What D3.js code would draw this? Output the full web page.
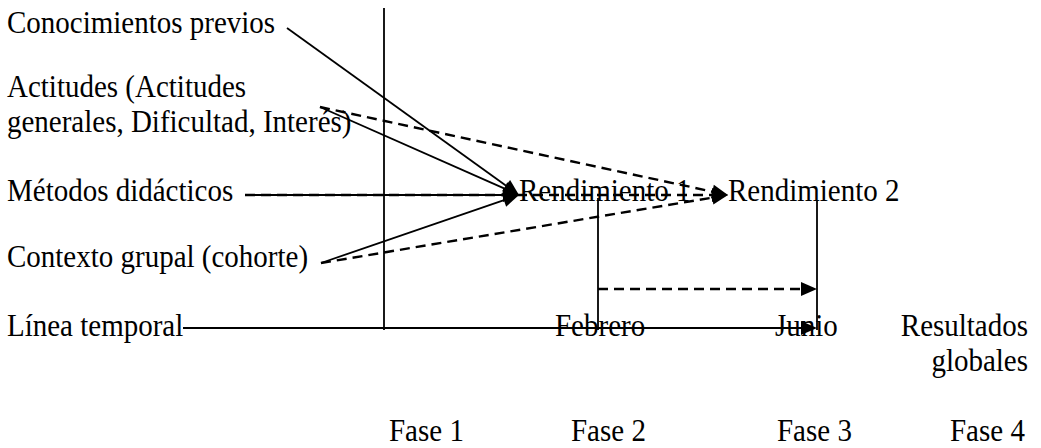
<!DOCTYPE html>
<html><head><meta charset="utf-8">
<script src="https://cdn.jsdelivr.net/npm/d3@7"></script>
<style>
body{margin:0;background:#fff}
svg{display:block}
text{font-family:"Liberation Serif","Times New Roman",Times,"DejaVu Serif",serif;font-size:29px;fill:#000}
</style>
</head><body>
<svg id="c" width="1041" height="448"></svg>
<script>
// ---- diagram content ----
const factors = ["Conocimientos previos", "Actitudes (Actitudes|generales, Dificultad, Interés)", "Métodos didácticos", "Contexto grupal (cohorte)"];
const outcomes = ["Rendimiento 1", "Rendimiento 2"];
const timeMarks = ["Línea temporal", "Febrero", "Junio", "Resultados|globales"];
const phases = ["Fase 1", "Fase 2", "Fase 3", "Fase 4"];
const solidLinks = [
  ["Conocimientos previos", "Rendimiento 1"],
  ["Actitudes (Actitudes|generales, Dificultad, Interés)", "Rendimiento 1"],
  ["Métodos didácticos", "Rendimiento 1"],
  ["Contexto grupal (cohorte)", "Rendimiento 1"]
];
const dashedLinks = [
  ["Actitudes (Actitudes|generales, Dificultad, Interés)", "Rendimiento 2"],
  ["Métodos didácticos", "Rendimiento 2"],
  ["Contexto grupal (cohorte)", "Rendimiento 2"]
];
const timeArrows = [["Línea temporal", "Junio", "solid"], ["Febrero", "Junio", "dashed"]];

// ---- layout ----
const svg = d3.select("#c");
const STRETCH = 1.1, LINE = 35;
const factorY = d3.scaleOrdinal().domain(factors).range([33, 97, 201, 267]);
const factorStart = d3.scaleOrdinal().domain(factors).range([[287, 28], [320, 107], [245, 195], [321, 263]]);
const outcomeX = d3.scaleOrdinal().domain(outcomes).range([519, 728]);
const outcomeTip = d3.scaleOrdinal().domain(outcomes).range([[519, 195], [728, 195]]);
const timeX = d3.scaleOrdinal().domain(timeMarks).range([7, 555, 775, 1028]);
const timeAnchor = d3.scaleOrdinal().domain(timeMarks).range(["start", "start", "start", "end"]);
const phaseX = d3.scaleOrdinal().domain(phases).range([389, 571, 777, 950]);
const timeLineY = 328, textBaseY = 336, phaseY = 441;
const dividers = ["Fase 1", "Fase 2", "Fase 3"];
const dividerX = d3.scaleOrdinal().domain(dividers).range([384, 598, 817]);
const dividerTop = d3.scaleOrdinal().domain(dividers).range([8, 198, 200]);
const timeStart = d3.scaleOrdinal().domain(["Línea temporal", "Febrero"]).range([[183, timeLineY], [598, 289]]);

function arrowHead(g, from, to) {
  const a = Math.atan2(to[1] - from[1], to[0] - from[0]);
  const L = 16, W = 7;
  const bx = to[0] - L * Math.cos(a), by = to[1] - L * Math.sin(a);
  const px = -Math.sin(a) * W, py = Math.cos(a) * W;
  g.append("path").attr("d", `M${to[0]},${to[1]}L${bx + px},${by + py}L${bx - px},${by - py}Z`).attr("fill", "#000");
}

function label(str, x, y, anchor) {
  const t = svg.append("text").attr("transform", `translate(${x},${y}) scale(1,${STRETCH})`)
    .attr("text-anchor", anchor || "start");
  str.split("|").forEach((s, i) => t.append("tspan").attr("x", 0).attr("y", i * LINE / STRETCH).text(s));
}

// labels first (lines drawn over them, as in the reference)
factors.forEach(f => label(f, 7, factorY(f)));
outcomes.forEach(o => label(o, outcomeX(o), 201));
timeMarks.forEach(m => label(m, timeX(m), textBaseY, timeAnchor(m)));
phases.forEach(p => label(p, phaseX(p), phaseY));

// dividers
svg.selectAll("line.div").data(dividers).join("line").attr("class", "div")
  .attr("x1", d => dividerX(d)).attr("x2", d => dividerX(d))
  .attr("y1", d => dividerTop(d)).attr("y2", 330)
  .attr("stroke", "#000").attr("stroke-width", 1.8);

const line = d3.line();
const links = svg.append("g");
function drawLink(from, to, dashed) {
  const a = Math.atan2(to[1] - from[1], to[0] - from[0]);
  const end = [to[0] - 12 * Math.cos(a), to[1] - 12 * Math.sin(a)];
  links.append("path").attr("d", line([from, end]))
    .attr("stroke", "#000").attr("stroke-width", dashed ? 2.4 : 1.8).attr("fill", "none")
    .attr("stroke-dasharray", dashed ? "10,6" : null);
  arrowHead(links, from, to);
}
dashedLinks.forEach(d => drawLink(factorStart(d[0]), outcomeTip(d[1]), true));
solidLinks.forEach(d => drawLink(factorStart(d[0]), outcomeTip(d[1]), false));
timeArrows.forEach(d => {
  const s = timeStart(d[0]);
  drawLink(s, [dividerX("Fase 3"), s[1]], d[2] === "dashed");
});
</script>
</body></html>
